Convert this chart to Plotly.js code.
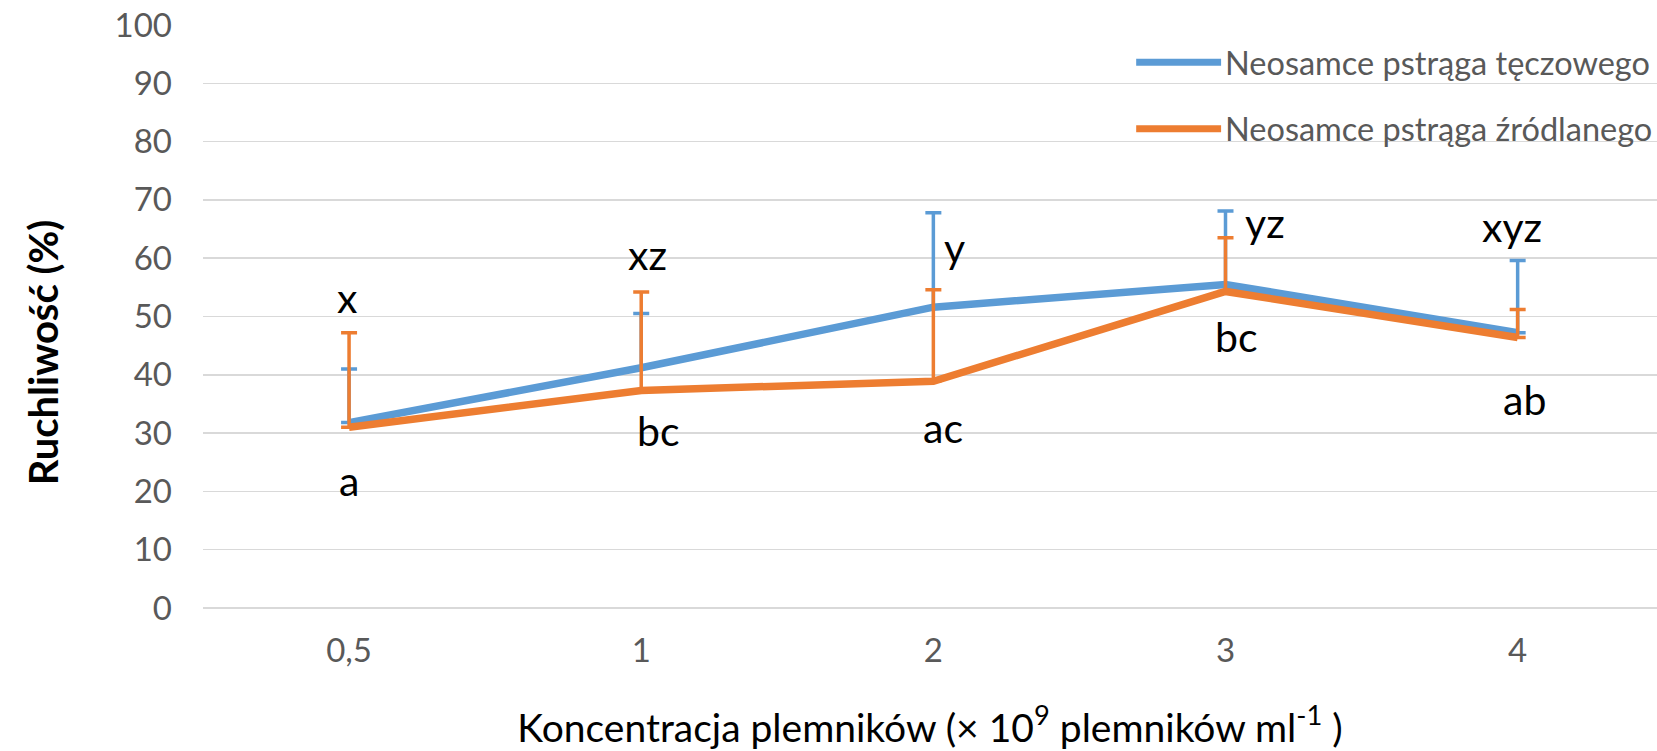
<!DOCTYPE html>
<html>
<head>
<meta charset="utf-8">
<script src="https://cdn.plot.ly/plotly-3.0.1.min.js"></script>
<style>html,body{margin:0;padding:0;background:#fff;}#chart{width:1657px;height:751px;}</style>
</head>
<body>
<div id="chart"></div>
<script>
// ---- data ----
const categories = ['0,5', '1', '2', '3', '4'];
const seriesNames = ['Neosamce pstrąga tęczowego', 'Neosamce pstrąga źródlanego'];
const rainbowValues = [31.8, 41.2, 51.6, 55.5, 47.2];
const rainbowErrors = [9.2, 9.3, 16.2, 12.6, 12.4];
const brookValues = [31.0, 37.3, 38.9, 54.3, 46.4];
const brookErrors = [16.2, 16.9, 15.7, 9.2, 4.8];
const rainbowLetters = ['x', 'xz', 'y', 'yz', 'xyz'];
const rainbowLetterY = [53.2, 60.6, 61.9, 66.2, 65.4];
const brookLetters = ['a', 'bc', 'ac', 'bc', 'ab'];
const brookLetterY = [21.9, 30.5, 31.0, 46.5, 35.7];
const yTicks = [0, 10, 20, 30, 40, 50, 60, 70, 80, 90, 100];

// ---- style ----
const BLUE = '#5B9BD5', ORANGE = '#ED7D31';
const FONT = 'Lato, "Open Sans", sans-serif';
const rainbowShift = [-2, 6, 21, 39, -6];
const brookShift = [0, 17, 10, 11, 7];

const zeros = categories.map(() => 0);
const traces = [
  {x: categories, y: rainbowValues, name: seriesNames[0], type: 'scatter', mode: 'lines',
   line: {color: BLUE, width: 7.5}, showlegend: false,
   error_y: {type: 'data', symmetric: false, array: rainbowErrors, arrayminus: zeros, color: BLUE, thickness: 3.5, width: 8}},
  {x: categories, y: brookValues, name: seriesNames[1], type: 'scatter', mode: 'lines',
   line: {color: ORANGE, width: 7.5}, showlegend: false,
   error_y: {type: 'data', symmetric: false, array: brookErrors, arrayminus: zeros, color: ORANGE, thickness: 3.5, width: 8}}
];

const annotations = [];
categories.forEach((c, i) => {
  annotations.push({x: c, y: rainbowLetterY[i], xref: 'x', yref: 'y', text: rainbowLetters[i], showarrow: false,
    xshift: rainbowShift[i], font: {family: FONT, size: 41, color: '#000'}, xanchor: 'center', yanchor: 'middle'});
  annotations.push({x: c, y: brookLetterY[i], xref: 'x', yref: 'y', text: brookLetters[i], showarrow: false,
    xshift: brookShift[i], font: {family: FONT, size: 41, color: '#000'}, xanchor: 'center', yanchor: 'middle'});
});
// custom legend
const legendY = [0.936, 0.822];
const legendColors = [BLUE, ORANGE];
const shapes = [];
seriesNames.forEach((n, i) => {
  shapes.push({type: 'line', xref: 'paper', yref: 'paper', x0: 0.6418, x1: 0.7002, y0: legendY[i], y1: legendY[i],
    line: {color: legendColors[i], width: 7}});
  annotations.push({xref: 'paper', yref: 'paper', x: 0.7016, y: legendY[i], text: n, showarrow: false,
    xanchor: 'left', yanchor: 'middle', font: {family: FONT, size: 32.5, color: '#595959'}});
});
// y axis title
annotations.push({xref: 'paper', yref: 'paper', x: -0.110, y: 0.437, text: '<b>Ruchliwość (%)</b>', textangle: -90,
  showarrow: false, xanchor: 'center', yanchor: 'middle', font: {family: FONT, size: 40, color: '#000'}});

const layout = {
  width: 1657, height: 751,
  margin: {l: 203, r: 0, t: 25, b: 143, autoexpand: false},
  paper_bgcolor: '#fff', plot_bgcolor: '#fff',
  font: {family: FONT, color: '#595959'},
  xaxis: {type: 'category', range: [-0.5, 4.477], showgrid: false, showline: false, zeroline: false,
    ticks: '', tickfont: {family: FONT, size: 33, color: '#595959'}, ticklabelstandoff: 20,
    title: {text: 'Koncentracja plemników (× 10<sup>9</sup> plemników ml<sup>-1</sup> )', standoff: 46,
      font: {family: FONT, size: 39, color: '#000'}}, automargin: false},
  yaxis: {range: [0, 100], tickvals: yTicks, showgrid: true, gridcolor: '#D9D9D9', gridwidth: 1.5,
    zeroline: true, zerolinecolor: '#D9D9D9', zerolinewidth: 1.5, showline: false, ticks: '',
    tickfont: {family: FONT, size: 33, color: '#595959'}, ticklabelstandoff: 30, automargin: false},
  annotations: annotations, shapes: shapes
};
Plotly.newPlot('chart', traces, layout, {displayModeBar: false, staticPlot: true});
</script>
</body>
</html>
